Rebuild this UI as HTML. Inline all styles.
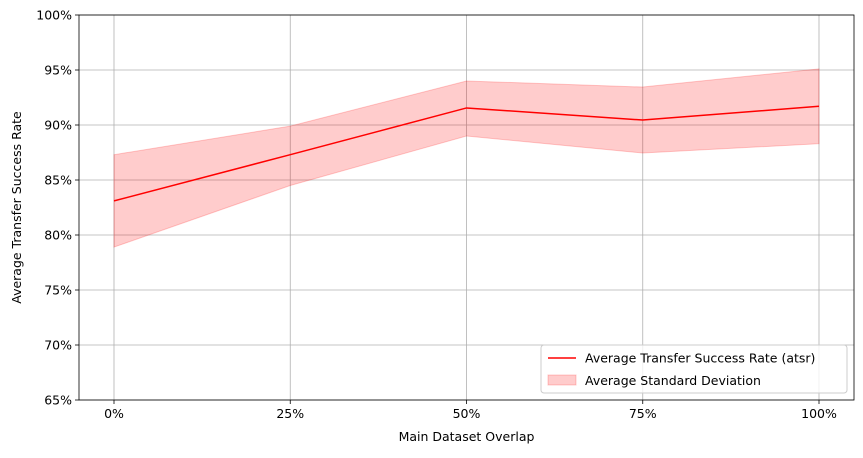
<!DOCTYPE html>
<html><head><meta charset="utf-8"><style>
body{margin:0;background:#fff;font-family:"Liberation Sans","DejaVu Sans",sans-serif;}
</style></head><body>
<svg id="chart" width="863" height="453" xmlns="http://www.w3.org/2000/svg" font-family="DejaVu Sans, Liberation Sans, sans-serif" font-size="12.5"></svg>
<script>
const categories=["0%","25%","50%","75%","100%"];
const xValues=[0,25,50,75,100];
const meanRate=[83.1,87.3,91.55,90.45,91.7];
const upperBand=[87.3,89.9,94.0,93.45,95.1];
const lowerBand=[78.9,84.5,89.0,87.45,88.3];
const yTicks=[65,70,75,80,85,90,95,100];

const L=79,R=854,T=15,B=400;
const xs=v=>114+(819-114)*v/100;
const ys=v=>B-(B-T)*(v-65)/35;
const svg=document.getElementById('chart');
const NS="http://www.w3.org/2000/svg";
function mk(tag,attrs,parent){const e=document.createElementNS(NS,tag);for(const k in attrs)e.setAttribute(k,attrs[k]);(parent||svg).appendChild(e);return e;}

// grid
yTicks.forEach(t=>{
  const g=mk('line',{x1:L,x2:R,y1:ys(t),y2:ys(t),stroke:'#b0b0b0','stroke-width':0.8});
  
  
  mk('line',{x1:L-4,x2:L,y1:ys(t),y2:ys(t),stroke:'#000','stroke-width':0.8});
  const tx=mk('text',{x:L-7,y:ys(t)+4.5,'text-anchor':'end'});tx.textContent=t+'%';
  
  
});
xValues.forEach((v,i)=>{
  const g=mk('line',{x1:xs(v),x2:xs(v),y1:T,y2:B,stroke:'#b0b0b0','stroke-width':0.8});
  
  
  mk('line',{x1:xs(v),x2:xs(v),y1:B,y2:B+4,stroke:'#000','stroke-width':0.8});
  const tx=mk('text',{x:xs(v),y:B+18,'text-anchor':'middle'});tx.textContent=categories[i];
  
  
});

// band
let d='';
xValues.forEach((v,i)=>{d+=(i?'L':'M')+xs(v)+','+ys(upperBand[i]);});
for(let i=xValues.length-1;i>=0;i--)d+='L'+xs(xValues[i])+','+ys(lowerBand[i]);
const band=mk('path',{d:d+'Z',fill:'rgba(255,0,0,0.2)',stroke:'rgba(255,0,0,0.2)','stroke-width':1});



// line
const pts=xValues.map((v,i)=>xs(v)+','+ys(meanRate[i])).join(' ');
const line=mk('polyline',{points:pts,fill:'none',stroke:'#ff0000','stroke-width':1.5});



// frame
const fr=mk('rect',{x:L,y:T,width:R-L,height:B-T,fill:'none',stroke:'#000','stroke-width':0.8});



// axis titles
const xt=mk('text',{x:(L+R)/2,y:441,'text-anchor':'middle'});xt.textContent='Main Dataset Overlap';


const yt=mk('text',{x:21,y:(T+B)/2,'text-anchor':'middle',transform:'rotate(-90 21 '+((T+B)/2)+')'});yt.textContent='Average Transfer Success Rate';



// legend
const lg=mk('g',{});


mk('rect',{x:541,y:345,width:306,height:48,rx:3,fill:'rgba(255,255,255,0.8)',stroke:'#ccc'},lg);
mk('line',{x1:548,x2:576,y1:358,y2:358,stroke:'#ff0000','stroke-width':1.5},lg);
const l1=mk('text',{x:585,y:362.5},lg);l1.textContent='Average Transfer Success Rate (atsr)';


mk('rect',{x:548,y:375,width:28,height:10,fill:'rgba(255,0,0,0.2)',stroke:'rgba(255,0,0,0.2)'},lg);
const l2=mk('text',{x:585,y:385},lg);l2.textContent='Average Standard Deviation';


</script>
</body></html>
